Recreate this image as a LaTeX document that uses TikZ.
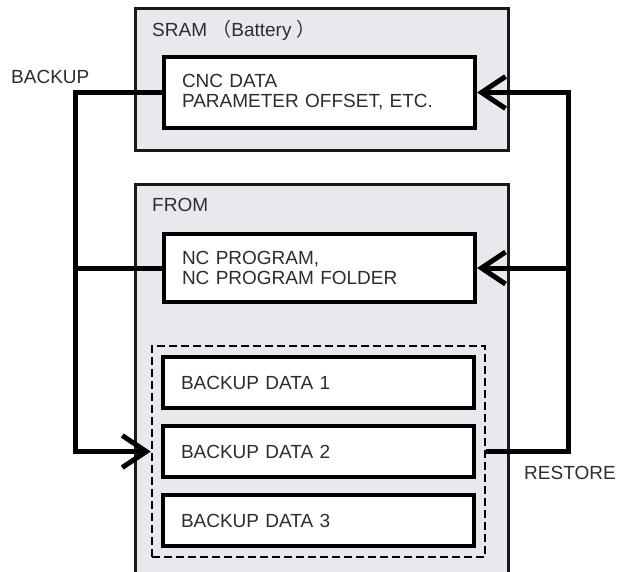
\documentclass[tikz,border=0pt]{standalone}
\usepackage{fontspec}
\setmainfont{Liberation Sans}
\newfontfamily\cjk{Noto Sans CJK JP}
\usepackage{tikz}
\usetikzlibrary{arrows.meta,positioning,fit,calc}
\definecolor{panel}{RGB}{234,232,238}
\definecolor{ink}{RGB}{45,45,45}

\begin{document}
\begin{tikzpicture}[x=1pt, y=-1pt,
        memory/.style={rectangle, draw=black!90, line width=3pt, fill=panel, anchor=north west, minimum width=373pt, inner sep=0pt},
        box/.style={rectangle, draw=black, line width=4pt, fill=white, anchor=north west, text width=275pt, inner xsep=18pt, align=left, font=\fontsize{19}{20}\selectfont, text=ink},
        tag/.style={font=\fontsize{19}{20}\selectfont, text=ink, inner sep=0pt, anchor=west},
        conn/.style={line width=5pt},
        barb/.style={-{Straight Barb[length=24pt, width=32pt, line width=5pt]}}]

        \useasboundingbox (0,0) rectangle (618,571);

        \node[memory, minimum height=142pt] (sram) at (134,7) {};
        \node[memory, minimum height=400pt] (from) at (134,183) {};

        \node[tag] (sramtag) at ($(sram.north west)+(18,23)$) {SRAM {\cjk （}Battery {\cjk ）}};
        \node[tag] (fromtag) at ($(from.north west)+(18,22)$) {FROM};

        \node[box, minimum height=71pt] (cnc) at (162,55) {CNC DATA\\PARAMETER OFFSET, ETC.\\[-2pt]};
        \node[box, minimum height=68pt] (ncp) at (162,232) {NC PROGRAM,\\NC PROGRAM FOLDER};

        \node[box, minimum height=51pt] (data1) at (161,355) {BACKUP DATA 1};
        \node[box, minimum height=51pt, below=14pt of data1] (data2) {BACKUP DATA 2};
        \node[box, minimum height=51pt, below=14pt of data2] (data3) {BACKUP DATA 3};
        \node[draw=black, line width=2.5pt, dash pattern=on 8pt off 4pt, inner sep=9pt, fit=(data1)(data3)] (grp) {};

        \coordinate (bkx) at (75,0);
        \coordinate (rsx) at (568,0);

        \draw[conn, barb] (cnc.west) -- (cnc.west -| bkx) |- (grp.west |- data2);
        \draw[conn] (ncp.west) -- (ncp.west -| bkx);
        \draw[conn, barb] (grp.east |- data2) -- (data2 -| rsx) |- (cnc.east);
        \draw[conn, barb] (ncp.east -| rsx) -- (ncp.east);

        \node[tag] (backup) at (11,77) {BACKUP};
        \node[tag] (restore) at (524,473) {RESTORE};

    \end{tikzpicture}
\end{document}
